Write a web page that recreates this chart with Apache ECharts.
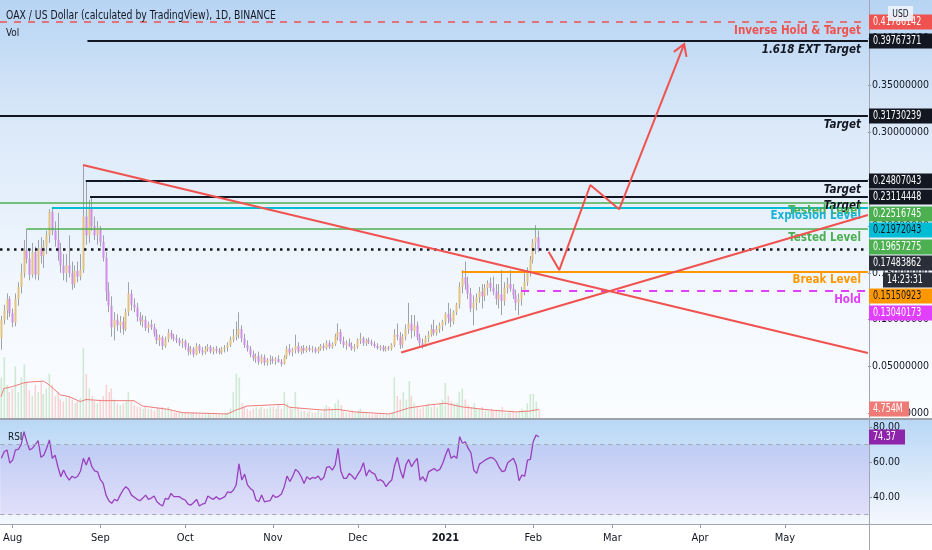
<!DOCTYPE html>
<html><head><meta charset="utf-8">
<script src="https://cdn.jsdelivr.net/npm/echarts/dist/echarts.min.js"></script>
<style>html,body{margin:0;padding:0;background:#fff}#c{width:932px;height:550px}</style>
</head><body><div id="c"></div>
<script>
// ---------------- DATA ----------------
const candleStart = '2020-07-28';
// [open, high, low, close]
const ohlcJul = [[.080,.104,.068,.100],[.100,.116,.095,.110],[.110,.128,.100,.122],[.122,.125,.103,.107]];
const ohlcAug = [[.107,.112,.092,.097],[.097,.128,.093,.122],[.122,.140,.115,.135],[.135,.160,.128,.150],[.150,.185,.145,.174],[.174,.1966,.160,.165],[.165,.175,.142,.148],[.148,.182,.145,.172],[.172,.178,.143,.148],[.148,.185,.142,.176],[.176,.188,.160,.168],[.168,.185,.155,.178],[.178,.195,.170,.190],[.190,.218,.182,.215],[.215,.2197,.190,.195],[.195,.205,.178,.185],[.185,.214,.163,.172],[.172,.182,.150,.158],[.158,.170,.142,.150],[.150,.170,.140,.158],[.158,.190,.145,.150],[.150,.162,.132,.138],[.138,.158,.134,.152],[.152,.162,.140,.146],[.146,.170,.142,.153],[.153,.265,.150,.210],[.210,.249,.180,.190],[.190,.228,.182,.220],[.220,.232,.195,.200],[.200,.210,.185,.190],[.190,.205,.180,.198]];
const ohlcSep = [[.198,.200,.178,.183],[.183,.190,.162,.166],[.166,.172,.120,.130],[.130,.140,.108,.115],[.115,.125,.082,.092],[.092,.108,.078,.100],[.100,.106,.088,.094],[.094,.104,.086,.098],[.098,.103,.084,.090],[.090,.112,.088,.108],[.108,.140,.104,.128],[.128,.132,.110,.116],[.116,.123,.108,.113],[.113,.118,.098,.103],[.103,.108,.094,.098],[.098,.105,.092,.100],[.100,.104,.088,.091],[.091,.098,.086,.095],[.095,.100,.089,.092],[.092,.096,.082,.085],[.085,.090,.074,.078],[.078,.084,.072,.081],[.081,.083,.068,.072],[.072,.082,.070,.079],[.079,.090,.076,.086],[.086,.089,.079,.082],[.082,.085,.077,.080],[.080,.084,.075,.078],[.078,.081,.072,.075],[.075,.080,.070,.077]];
const ohlcOct = [[.077,.079,.068,.071],[.071,.075,.062,.066],[.066,.072,.063,.069],[.069,.071,.060,.063],[.063,.075,.062,.072],[.072,.074,.064,.067],[.067,.071,.062,.065],[.065,.072,.063,.069],[.069,.074,.066,.071],[.071,.073,.064,.066],[.066,.071,.063,.069],[.069,.072,.064,.067],[.067,.070,.063,.065],[.065,.071,.063,.069],[.069,.073,.065,.070],[.070,.076,.066,.073],[.073,.082,.071,.079],[.079,.090,.076,.082],[.082,.098,.078,.084],[.084,.108,.080,.090],[.090,.094,.076,.080],[.080,.085,.070,.073],[.073,.078,.066,.069],[.069,.072,.060,.063],[.063,.067,.056,.059],[.059,.064,.054,.061],[.061,.066,.052,.055],[.055,.063,.053,.060],[.060,.063,.051,.054],[.054,.059,.051,.057],[.057,.062,.052,.058]];
const ohlcNov = [[.058,.061,.053,.056],[.056,.060,.052,.058],[.058,.062,.054,.055],[.055,.058,.050,.053],[.053,.062,.052,.060],[.060,.072,.058,.069],[.069,.074,.062,.065],[.065,.070,.061,.068],[.068,.084,.064,.072],[.072,.076,.064,.066],[.066,.072,.063,.070],[.070,.073,.064,.067],[.067,.072,.065,.070],[.070,.073,.066,.068],[.068,.072,.065,.069],[.069,.071,.064,.066],[.066,.071,.064,.069],[.069,.074,.067,.072],[.072,.075,.067,.070],[.070,.078,.068,.075],[.075,.078,.069,.071],[.071,.076,.069,.074],[.074,.085,.072,.082],[.082,.096,.078,.087],[.087,.090,.074,.077],[.077,.082,.070,.073],[.073,.078,.068,.075],[.075,.080,.071,.072],[.072,.076,.067,.069],[.069,.074,.066,.071]];
const ohlcDec = [[.071,.080,.069,.078],[.078,.086,.074,.080],[.080,.082,.072,.075],[.075,.080,.072,.078],[.078,.081,.074,.076],[.076,.079,.072,.074],[.074,.077,.070,.072],[.072,.075,.068,.070],[.070,.073,.067,.071],[.071,.073,.066,.068],[.068,.072,.066,.070],[.070,.072,.067,.069],[.069,.075,.067,.073],[.073,.090,.071,.084],[.084,.096,.078,.082],[.082,.087,.069,.073],[.073,.085,.070,.082],[.082,.095,.078,.090],[.090,.118,.085,.096],[.096,.105,.080,.088],[.088,.105,.082,.094],[.094,.098,.078,.081],[.081,.085,.072,.075],[.075,.080,.069,.073],[.073,.083,.071,.080],[.080,.088,.076,.084],[.084,.095,.082,.090],[.090,.100,.083,.086],[.086,.094,.083,.090],[.090,.097,.086,.094],[.094,.100,.088,.098]];
const ohlcJan = [[.098,.108,.094,.106],[.106,.118,.096,.102],[.102,.112,.092,.098],[.098,.110,.095,.108],[.108,.118,.105,.116],[.116,.140,.112,.135],[.135,.153,.128,.145],[.145,.162,.132,.138],[.138,.146,.122,.128],[.128,.134,.108,.112],[.112,.126,.094,.118],[.118,.128,.110,.124],[.124,.135,.118,.130],[.130,.138,.112,.125],[.125,.138,.120,.134],[.134,.142,.126,.139],[.139,.145,.130,.134],[.134,.146,.126,.130],[.130,.138,.116,.122],[.122,.138,.112,.127],[.127,.153,.105,.120],[.120,.140,.115,.134],[.134,.145,.128,.138],[.138,.153,.130,.133],[.133,.138,.122,.126],[.126,.132,.110,.118],[.118,.128,.105,.122],[.122,.135,.115,.130],[.130,.150,.126,.140],[.140,.156,.136,.152],[.152,.168,.146,.164]];
const ohlcFeb = [[.164,.186,.160,.182],[.182,.201,.170,.188],[.188,.195,.172,.17483862]];

// volume in millions
const volJul = [22,33,18,14];
const volAug = [16,28,14,22,29,20,15,12,18,14,20,13,16,24,18,12,14,10,9,11,12,10,8,9,11,38,24,16,12,9,8];
const volSep = [10,12,18,14,16,10,8,7,8,9,14,9,7,6,6,5,6,5,5,4,6,5,6,5,6,4,3,3,3,3];
const volOct = [3,3,2.5,3,3,2.5,2,2,2.5,2,2,2,2,2,2.5,3,5,14,24,22,8,6,5,4,5,6,5,6,5,5,6];
const volNov = [6,5,7,5,14,8,6,5,14,6,4,4,3,4,3,3,4,3,5,7,6,5,8,10,7,4,3,3,4,3];
const volDec = [4,5,3,3,2,2,2,2,2,2,2,2,3,22,12,10,14,10,20,12,8,6,5,6,7,8,6,7,6,8,10];
const volJan = [19,12,9,8,8,14,16,10,7,6,8,5,5,6,4,4,5,4,4,4,6,3,3,3,4,3,4,5,4,8,13];
const volFeb = [13,9,4.754];

// volume moving average
const volMA = [['2020-07-28',11.5],['2020-07-29',16],['2020-08-01',17],['2020-08-05',19],['2020-08-07',19.5],['2020-08-12',20],['2020-08-14',18],['2020-08-18',12.5],['2020-08-21',11.6],['2020-08-25',8.9],['2020-08-27',10],['2020-09-02',9.4],['2020-09-13',9.4],['2020-09-16',6.5],['2020-09-25',4.7],['2020-09-30',2.9],['2020-10-16',2.2],['2020-10-19',4.3],['2020-10-23',6.5],['2020-11-05',7.4],['2020-11-07',5.8],['2020-11-10',5.4],['2020-11-19',4.3],['2020-11-24',4.7],['2020-11-30',3.3],['2020-12-12',2.2],['2020-12-14',2.9],['2020-12-19',5.4],['2020-12-26',7],['2021-01-01',8],['2021-01-07',6],['2021-01-17',4.3],['2021-01-26',3.3],['2021-01-31',3.8],['2021-02-03',4.7]];

// RSI
const rsiJul = [62.2,66,67,59.5];
const rsiAug = [61.2,67,67.3,70,77.4,71.7,67,68,70,72.3,62.8,64,68,72.7,62.2,64,57.4,51.7,55.5,52,49.8,52,51,52,55,62.2,58.4,62.8,57.4,55,54.5];
const rsiSep = [50,47.9,41.2,38,36.5,38.8,37.8,41.2,44,46,44.5,41.2,40,38.8,38,39.5,41.2,38.8,39.5,40.7,37.4,36,35,39.4,38.8,42.2,40.3,40.3,40.3,39];
const rsiOct = [38.4,36.1,35.5,37,38.8,35,36,36.5,40.7,39.5,38.8,40.3,38.8,39.5,40.3,43.1,42.6,44,47,59,49.8,53.2,47,45,43.8,38.4,37.4,41.2,37.4,37.8,38];
const rsiNov = [41.2,39.9,40.5,41.8,46,52.1,49,52,55.9,54.5,51.7,47.9,51.7,50.2,51.3,50.8,52.1,49.8,51.3,57,57.5,55.5,58.4,67.9,55,50.8,50.8,53.6,52.1,50.2];
const rsiDec = [53,55.5,59.7,52.1,55.5,54,53.2,49.4,50,48.9,46,48.3,49.8,58,62.8,55.5,50.8,58.4,61.6,57.4,60,62.2,49.8,51.7,48.9,54.5,55.5,56.4,55,55.9,59.3];
const rsiJan = [64,67.9,62.2,63.6,62.2,74.6,70.8,71.7,68,65.4,55.5,53.6,58.9,60,61.2,62,62.8,62.2,60.3,57,54.6,55.1,59.7,61,62.2,58.4,49.4,52.6,52.1,61.2,61.6];
const rsiFeb = [71.7,75.5,74.37];

// horizontal levels
const levelValues = [0.41786142,0.39767371,0.31730239,0.24807043,0.23114448,0.22516745,0.21972043,0.19657275,0.17483862,0.15150923,0.13040173];
const levelStarts = [null,'2020-08-27T14:00:00Z',null,'2020-08-27','2020-08-28T12:00:00Z',null,'2020-08-15','2020-08-06',null,'2021-01-07','2021-01-28'];
const levelNames = ['Inverse Hold & Target','1.618 EXT Target','Target','Target','Target','Tested Level','Explosion Level','Tested Level','','Break Level','Hold'];

// drawings
const trendDown = [['2020-08-26',0.265],['2021-05-30T17:00:00Z',0.0645]];
const trendUp = [['2020-12-16T14:00:00Z',0.065],['2021-05-30T17:00:00Z',0.2117]];
const projection = [['2021-02-06T18:00:00Z',0.1726],['2021-02-10T12:00:00Z',0.153],['2021-02-21T12:00:00Z',0.2437],['2021-03-03T17:00:00Z',0.2178],['2021-03-26T17:00:00Z',0.394]];

// axis
const priceTicks = [0,0.05,0.10,0.15,0.20,0.25,0.30,0.35,0.40];
const rsiTicks = [40,60,80];
const countdownText = '14:23:31';
const lastVolumeText = '4.754M';

// ---------------- STYLES / BUILD ----------------
const FONT = "'Liberation Sans Narrow','DejaVu Sans Condensed',Roboto,sans-serif";
const DAY = 86400000;
const ts = s => Date.parse(s.length === 10 ? s + 'T00:00:00Z' : s);
const X_MIN = ts('2020-07-27T15:30:00Z');
const X_MAX = ts('2021-05-30T17:00:00Z');
const ohlc = [].concat(ohlcJul, ohlcAug, ohlcSep, ohlcOct, ohlcNov, ohlcDec, ohlcJan, ohlcFeb);
const vols = [].concat(volJul, volAug, volSep, volOct, volNov, volDec, volJan, volFeb);
const rsi = [].concat(rsiJul, rsiAug, rsiSep, rsiOct, rsiNov, rsiDec, rsiJan, rsiFeb);
const t0 = ts(candleStart);
const times = ohlc.map((_, i) => t0 + i * DAY);
const pt = a => [ts(a[0]), a[1]];

const levelStyle = [
  {c:'#f0524f', w:1.5, type:[7,7], lc:'#f0524f', it:false},
  {c:'#131722', w:2, type:'solid', lc:'#131722', it:true},
  {c:'#131722', w:2, type:'solid', lc:'#131722', it:true},
  {c:'#131722', w:2, type:'solid', lc:'#131722', it:true},
  {c:'#131722', w:2, type:'solid', lc:'#131722', it:true},
  {c:'#4caf50', w:1.5, type:'solid', lc:'#4caf50', it:false},
  {c:'#00bcd4', w:2, type:'solid', lc:'#1ab3d6', it:false},
  {c:'#4caf50', w:1.5, type:'solid', lc:'#4caf50', it:false},
  {c:'#131722', w:2.5, type:[2.5,4.5], lc:'#131722', it:false},
  {c:'#ff9800', w:2, type:'solid', lc:'#ff9800', it:false},
  {c:'#e040fb', w:2, type:[8,8], lc:'#e040fb', it:false}
];
const badgeStyle = [
  {bg:'#f0524f', fg:'#fff'},{bg:'#131722', fg:'#fff'},{bg:'#131722', fg:'#fff'},{bg:'#131722', fg:'#fff'},
  {bg:'#131722', fg:'#fff'},{bg:'#4caf50', fg:'#fff'},{bg:'#00bcd4', fg:'#131722'},{bg:'#4caf50', fg:'#fff'},
  {bg:'#2a2e39', fg:'#fff'},{bg:'#ff9800', fg:'#131722'},{bg:'#e040fb', fg:'#fff'}
];

const markData = levelValues.map((v, i) => {
  const s = levelStyle[i];
  const start = levelStarts[i] ? ts(levelStarts[i]) : X_MIN;
  return [
    {coord:[start, v], lineStyle:{color:s.c, width:s.w, type:s.type},
     label:{show: !!levelNames[i], formatter: levelNames[i], position:'insideEndBottom', distance:[7,3],
            color:s.lc, fontWeight:'bold', fontStyle: s.it ? 'italic' : 'normal', fontSize:11.5, fontFamily:FONT}},
    {coord:[X_MAX, v]}
  ];
});

function renderCandle(params, api) {
  const t = api.value(0), o = api.value(1), h = api.value(2), l = api.value(3), c = api.value(4);
  const pO = api.coord([t, o]), pC = api.coord([t, c]), pH = api.coord([t, h]), pL = api.coord([t, l]);
  const x = Math.round(pO[0]) + 0.5;
  const top = Math.min(pO[1], pC[1]);
  const bh = Math.max(1, Math.abs(pO[1] - pC[1]));
  const up = c >= o;
  return {type:'group', children:[
    {type:'line', shape:{x1:x, y1:pH[1], x2:x, y2:pL[1]}, style:{stroke:'#9ea2ab', lineWidth:1}},
    {type:'rect', shape:{x:x - 1, y:top, width:2, height:bh}, style:{fill: up ? '#e2c27f' : '#cf8de6'}}
  ]};
}
function renderVol(params, api) {
  const t = api.value(0), v = api.value(1), up = api.value(2) > 0;
  const p = api.coord([t, v]), b = api.coord([t, 0]);
  const x = Math.round(p[0]);
  return {type:'rect', shape:{x:x - 0.5, y:p[1], width:1.6, height:b[1] - p[1]},
          style:{fill: up ? 'rgba(76,175,80,0.24)' : 'rgba(239,83,80,0.24)'}};
}
function renderArrow(params, api) {
  const p1 = api.coord([api.value(0), api.value(1)]);
  const p0 = api.coord([api.value(2), api.value(3)]);
  const ang = Math.atan2(p1[1] - p0[1], p1[0] - p0[0]);
  const L = 13, sp = 0.55;
  const a1 = ang + Math.PI - sp, a2 = ang + Math.PI + sp;
  return {type:'polyline', shape:{points:[[p1[0] + L*Math.cos(a1), p1[1] + L*Math.sin(a1)], p1, [p1[0] + L*Math.cos(a2), p1[1] + L*Math.sin(a2)]]},
          style:{stroke:'#f0524f', lineWidth:2, fill:null}};
}

const gridL = 0, gridR = 63;
const xBase = {type:'time', min:X_MIN, max:X_MAX, splitLine:{show:false}};
const chart = echarts.init(document.getElementById('c'));
const option = {
  animation:false,
  useUTC:true,
  grid:[
    {left:gridL, right:gridR, top:0, height:418},
    {left:gridL, right:gridR, top:335, height:83},
    {left:gridL, right:gridR, top:420, height:104}
  ],
  xAxis:[
    Object.assign({gridIndex:0, show:false}, xBase),
    Object.assign({gridIndex:1, show:false}, xBase),
    Object.assign({gridIndex:2, axisLine:{show:false},
      axisTick:{show:true, length:4, lineStyle:{color:'#9598a1'}},
      minInterval:28*DAY, splitNumber:10,
      axisLabel:{color:'#131722', fontSize:11, fontFamily:FONT, margin:9,
        formatter:{year:'{yr|{yyyy}}', month:'{MMM}', day:''},
        rich:{yr:{fontWeight:'bold', fontSize:11, fontFamily:FONT, color:'#131722'}}}}, xBase)
  ],
  yAxis:[
    {type:'value', gridIndex:0, position:'right', min:-0.00483, max:0.44103, splitLine:{show:false},
     axisLine:{show:false},
     axisTick:{show:true, length:3, customValues:priceTicks, lineStyle:{color:'#8f939c'}},
     axisLabel:{customValues:priceTicks, formatter:v => v.toFixed(8), color:'#131722', fontSize:10.5, fontFamily:FONT, margin:4}},
    {type:'value', gridIndex:1, min:0, max:45, show:false},
    {type:'value', gridIndex:2, position:'right', min:24.7, max:84.1, splitLine:{show:false},
     axisLine:{show:false},
     axisTick:{show:true, length:3, customValues:rsiTicks, lineStyle:{color:'#8f939c'}},
     axisLabel:{customValues:rsiTicks, formatter:v => v.toFixed(2), color:'#131722', fontSize:10.5, fontFamily:FONT, margin:4}}
  ],
  series:[
    {type:'custom', name:'vol', xAxisIndex:1, yAxisIndex:1, renderItem:renderVol, z:1, silent:true,
     encode:{x:0, y:1}, data: times.map((t, i) => [t, vols[i], ohlc[i][3] >= ohlc[i][0] ? 1 : -1])},
    {type:'line', name:'volma', xAxisIndex:1, yAxisIndex:1, symbol:'none', z:1, silent:true,
     lineStyle:{color:'#ef7c78', width:1}, data: volMA.map(pt)},
    {type:'custom', name:'candles', xAxisIndex:0, yAxisIndex:0, renderItem:renderCandle, z:2, silent:true,
     encode:{x:0, y:[1,2,3,4]}, data: times.map((t, i) => [t].concat(ohlc[i]))},
    {type:'line', name:'trendDown', xAxisIndex:0, yAxisIndex:0, symbol:'none', z:5, silent:true,
     lineStyle:{color:'#f0524f', width:2}, data: trendDown.map(pt),
     markLine:{symbol:['none','none'], silent:true, animation:false, data: markData}},
    {type:'line', name:'trendUp', xAxisIndex:0, yAxisIndex:0, symbol:'none', z:5, silent:true,
     lineStyle:{color:'#f0524f', width:2}, data: trendUp.map(pt)},
    {type:'line', name:'projection', xAxisIndex:0, yAxisIndex:0, symbol:'none', z:6, silent:true,
     lineStyle:{color:'#f0524f', width:2}, data: projection.map(pt)},
    {type:'custom', name:'arrow', xAxisIndex:0, yAxisIndex:0, renderItem:renderArrow, z:6, silent:true,
     encode:{x:[0,2], y:[1,3]},
     data:[[ts(projection[4][0]), projection[4][1], ts(projection[3][0]), projection[3][1]]]},
    {type:'line', name:'rsi', xAxisIndex:2, yAxisIndex:2, symbol:'none', z:4, silent:true,
     lineStyle:{color:'#9a3fbf', width:1.3}, data: times.map((t, i) => [t, rsi[i]]),
     markArea:{silent:true, itemStyle:{color:'rgba(140,95,230,0.14)'}, data:[[{yAxis:30},{yAxis:70}]]},
     markLine:{symbol:['none','none'], silent:true, label:{show:false},
       lineStyle:{color:'#a2a5ae', type:[4,4], width:1}, data:[{yAxis:70},{yAxis:30}]}}
  ]
};
chart.setOption(option);

// ---------- background, panes, labels, badges ----------
const g = [];
g.push({type:'rect', z:-10, silent:true, shape:{x:0, y:0, width:932, height:420},
  style:{fill:new echarts.graphic.LinearGradient(0,0,0,1,[{offset:0,color:'#b7d4f3'},{offset:0.3,color:'#dbe9f9'},{offset:0.7,color:'#f3f8fe'},{offset:1,color:'#fbfdff'}])}});
g.push({type:'rect', z:-10, silent:true, shape:{x:0, y:420, width:932, height:104},
  style:{fill:new echarts.graphic.LinearGradient(0,0,0,1,[{offset:0,color:'#b9d7f6'},{offset:1,color:'#f5f8fe'}])}});
g.push({type:'rect', z:-10, silent:true, shape:{x:0, y:524, width:932, height:26}, style:{fill:'#ffffff'}});
g.push({type:'line', z:50, silent:true, shape:{x1:0, y1:419, x2:932, y2:419}, style:{stroke:'#9ea2ab', lineWidth:2}});
g.push({type:'line', z:50, silent:true, shape:{x1:0, y1:524.5, x2:932, y2:524.5}, style:{stroke:'#a3a6ae', lineWidth:1}});
g.push({type:'line', z:50, silent:true, shape:{x1:869.5, y1:0, x2:869.5, y2:550}, style:{stroke:'#a3a6ae', lineWidth:1}});
function label(x, y, text, size, sx, extra) {
  g.push({type:'text', z:60, silent:true, x:x, y:y, scaleX:sx,
    style:Object.assign({x:0, y:0, text:text, font:size + 'px ' + FONT, fill:'#131722', textVerticalAlign:'middle', verticalAlign:'middle'}, extra || {})});
}
label(6, 16, 'OAX / US Dollar (calculated by TradingView), 1D, BINANCE', 12, 0.86);
label(6, 33, 'Vol', 11, 0.9);
label(8, 437, 'RSI', 11, 0.9);

function badge(y, text, bg, fg, x0, w) {
  g.push({type:'rect', z:100, silent:true, shape:{x:x0, y:y - 7.5, width:w, height:15}, style:{fill:bg}});
  g.push({type:'text', z:101, silent:true, x:x0 + 4, y:y, scaleX:0.74,
    style:{x:0, y:0, text:text, font:'12px ' + FONT, fill:fg, textVerticalAlign:'middle', verticalAlign:'middle'}});
}
// stacked price badges
const items = levelValues.map((v, i) => ({v, text: v.toFixed(8), bg: badgeStyle[i].bg, fg: badgeStyle[i].fg, x0:869, w:63}));
items.splice(9, 0, {v: levelValues[8], text: countdownText, bg: badgeStyle[8].bg, fg:'#fff', x0:883, w:49});
let prev = -1e9;
items.forEach(it => {
  let y = chart.convertToPixel({yAxisIndex:0}, it.v);
  if (y < prev + 16.5) y = prev + 16.5;
  prev = y;
  badge(Math.round(y), it.text, it.bg, it.fg, it.x0, it.w);
});
badge(Math.round(chart.convertToPixel({yAxisIndex:1}, volFeb[volFeb.length - 1])), lastVolumeText, '#ef7b76', '#fff', 869, 40);
badge(Math.round(chart.convertToPixel({yAxisIndex:2}, rsi[rsi.length - 1])), rsi[rsi.length - 1].toFixed(2), '#8e24aa', '#fff', 869, 36);
// USD label
g.push({type:'rect', z:110, silent:true, shape:{x:888, y:6, width:25, height:15}, style:{fill:'rgba(236,243,252,0.92)'}});
g.push({type:'text', z:111, silent:true, x:900.5, y:14, scaleX:0.85, style:{x:0, y:0, text:'USD', font:'10px ' + FONT, fill:'#131722', textAlign:'center', align:'center', textVerticalAlign:'middle', verticalAlign:'middle'}});
chart.setOption({graphic: g});
</script>
</body></html>
